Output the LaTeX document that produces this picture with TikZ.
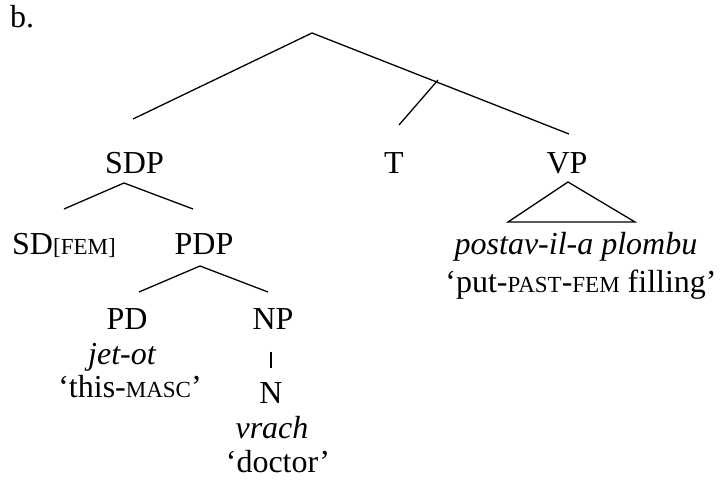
\documentclass[tikz,border=0pt]{standalone}
\usepackage{fontspec}
\setmainfont{Liberation Serif}
\newcommand{\smc}[1]{{\fontsize{23}{23}\selectfont #1}}
\begin{document}
\begin{tikzpicture}[x=1pt,y=-1pt,
  lbl/.style={anchor=base,inner sep=0pt,font=\fontsize{32}{32}\selectfont},
  br/.style={line width=1.3pt}]
\useasboundingbox (0,0) rectangle (721,481);
% labels
\node[lbl,anchor=base west] (b) at (10,28) {b.};
\node[lbl] (sdp) at (134.5,174) {SDP};
\node[lbl] (t) at (394,174) {T};
\node[lbl] (vp) at (567,174) {VP};
\node[lbl,anchor=base west] (sd) at (12,255) {SD\smc{[FEM]}};
\node[lbl] (pdp) at (204,255) {PDP};
\node[lbl] (pd) at (127,330) {PD};
\node[lbl] (np) at (273,330) {NP};
\node[lbl] (jet) at (122,365) {\itshape jet-ot};
\node[lbl] (this) at (130,397) {`this-\smc{MASC}'};
\node[lbl] (n) at (271,403) {N};
\node[lbl] (vrach) at (272,438) {\itshape vrach};
\node[lbl] (doc) at (278,472) {`doctor'};
\node[lbl] (post) at (576,255) {\itshape postav-il-a plombu};
\node[lbl] (put) at (581,293) {`put-\smc{PAST}-\smc{FEM} filling'};
% branch points
\coordinate (root) at (312,33);
\coordinate (rl) at (133,119);
\coordinate (rr) at (569,134);
\coordinate (tm) at (438,80);
\coordinate (tl) at (399,125);
\coordinate (sa) at (124,183);
\coordinate (sl) at (64,209);
\coordinate (sr) at (193,209);
\coordinate (pa) at (200,266);
\coordinate (pl) at (139,292);
\coordinate (pr) at (268,292);
\coordinate (nt) at (271,352);
\coordinate (nb) at (271,368);
\coordinate (va) at (568,182);
\coordinate (vl) at (508,222);
\coordinate (vr) at (635,222);
% branches
\draw[br] (rl) -- (root) -- (rr);
\draw[br] (tm) -- (tl);
\draw[br] (sl) -- (sa) -- (sr);
\draw[br] (pl) -- (pa) -- (pr);
\draw[br] (nt) -- (nb);
\draw[br,line join=miter] (va) -- (vl) -- (vr) -- cycle;
\end{tikzpicture}
\end{document}
